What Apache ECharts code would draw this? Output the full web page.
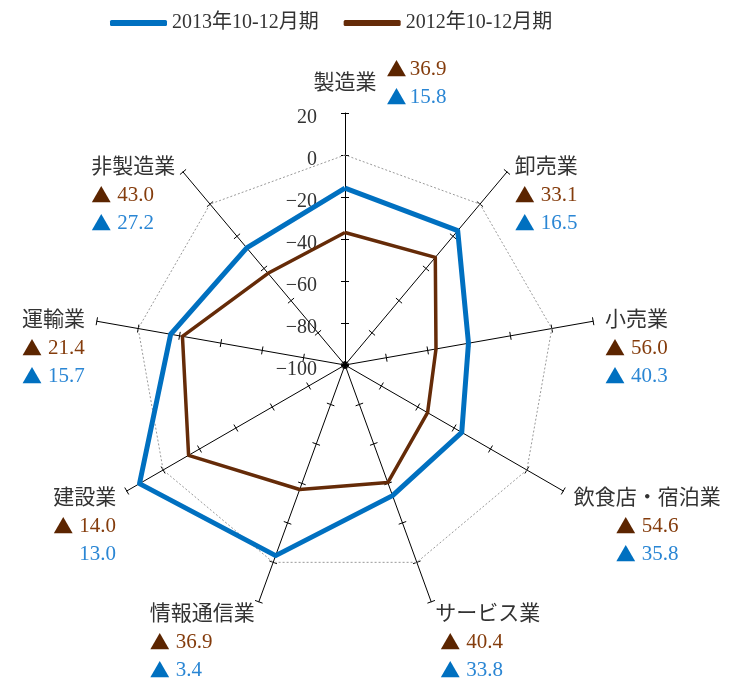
<!DOCTYPE html>
<html>
<head>
<meta charset="utf-8">
<script src="https://cdn.jsdelivr.net/npm/echarts@6/dist/echarts.min.js"></script>
<style>
  html, body { margin: 0; padding: 0; background: #fff; }
  #chart { width: 734px; height: 679px; }
</style>
</head>
<body>
<div id="chart"></div>
<script>
// categories listed clockwise from the top
const categories = ['製造業', '卸売業', '小売業', '飲食店・宿泊業', 'サービス業', '情報通信業', '建設業', '運輸業', '非製造業']
const values2013 = [-15.8, -16.5, -40.3, -35.8, -33.8, -3.4, 13.0, -15.7, -27.2]
const values2012 = [-36.9, -33.1, -56.0, -54.6, -40.4, -36.9, -14.0, -21.4, -43.0]
const zeroLine = [0, 0, 0, 0, 0, 0, 0, 0, 0]
const seriesNames = ['2013年10-12月期', '2012年10-12月期']
const axisMin = -100
const axisMax = 20

// echarts lays indicators out counter-clockwise, so feed them in reverse
const order = [0, 8, 7, 6, 5, 4, 3, 2, 1]
const pick = arr => order.map(i => arr[i])

const FONT = '"Liberation Serif", "Noto Sans CJK JP", serif'
const SIZE = 21
const BLUE = '#0070c0'
const BROWN = '#652b08'

function fmt(v) { return Math.abs(v).toFixed(1) }
function tri(v) { return v < 0 ? '▲' : '\u00a0' }

const TRI_W = 26
const NUM_W = 37
const VAL_W = TRI_W + NUM_W

function valueStyles(lh) {
  return {
    tb: { fontFamily: '"Noto Sans CJK JP"', fontSize: 20, color: '#5c2500', width: TRI_W, align: 'left', lineHeight: lh },
    b: { fontFamily: FONT, fontSize: SIZE, color: '#843c0c', width: NUM_W, align: 'left', lineHeight: lh },
    tc: { fontFamily: '"Noto Sans CJK JP"', fontSize: 20, color: BLUE, width: TRI_W, align: 'left', lineHeight: lh },
    c: { fontFamily: FONT, fontSize: SIZE, color: '#2a86d4', width: NUM_W, align: 'left', lineHeight: lh }
  }
}
const big = valueStyles(28)
const small = valueStyles(14)

// rich styles for the axis names
const rich = {
  e: { fontSize: 10, lineHeight: 29 },
  e2: { fontSize: 10, lineHeight: 33 },
  n: { fontFamily: FONT, fontSize: SIZE, color: '#333', lineHeight: 28 },
  tb: big.tb, b: big.b, tc: big.tc, c: big.c,
  top: { width: 140, lineHeight: 14 },
  nS: { fontFamily: FONT, fontSize: SIZE, color: '#333', lineHeight: 14 },
  tbS: small.tb, bS: small.b, tcS: small.tc, cS: small.c
}

function padFor(i) {
  // サービス業 keeps its values near the left edge, the rest are centred
  if (categories[i] === 'サービス業') return 5
  return (categories[i].length * SIZE - VAL_W) / 2
}
categories.forEach((c, i) => {
  rich['p' + i] = { width: Math.max(1, padFor(i)), lineHeight: 28 }
})

function nameBlock(name) {
  const i = categories.indexOf(name)
  const a = values2012[i]
  const b = values2013[i]
  if (i === 0) {
    return '{top|\u00a0}{tbS|' + tri(a) + '}{bS|' + fmt(a) + '}\n' +
      '{nS|' + name + '}\n' +
      '{top|\u00a0}{tcS|' + tri(b) + '}{cS|' + fmt(b) + '}'
  }
  const sp = padFor(i) > 2 ? '{p' + i + '|\u00a0}' : ''
  const l1 = '{tb|' + tri(a) + '}{b|' + fmt(a) + '}'
  const l2 = '{tc|' + tri(b) + '}{c|' + fmt(b) + '}'
  const right = i <= 4
  // the two upper diagonal labels sit a little lower in the original
  const e = (i === 1 || i === 8) ? '{e2|\u00a0}' : '{e|\u00a0}'
  return e + '\n' + e + '\n{n|' + name + '}\n' +
    (right ? sp + l1 : l1 + sp) + '\n' +
    (right ? sp + l2 : l2 + sp)
}

const chart = echarts.init(document.getElementById('chart'))

const baseRadar = {
  center: [345, 365],
  radius: 252,
  startAngle: 90,
  splitNumber: 6,
  shape: 'polygon',
  splitLine: { show: false },
  splitArea: { show: false }
}

const option = {
  animation: false,
  legend: {
    left: 105,
    top: 8,
    itemWidth: 57,
    itemHeight: 6,
    itemGap: 25,
    icon: 'roundRect',
    textStyle: { fontFamily: FONT, fontSize: 20, color: '#333' },
    data: seriesNames
  },
  radar: [
    Object.assign({}, baseRadar, {
      indicator: pick(categories).map((c, k) => {
        const ind = { name: c, min: axisMin, max: axisMax, nameGap: k === 0 ? 5 : 12 }
        if (k === 0) {
          ind.axisLabel = {
            show: true,
            margin: 28,
            align: 'right',
            verticalAlign: 'top',
            lineHeight: 10,
            fontFamily: FONT,
            fontSize: 20,
            color: '#333',
            formatter: v => String(v).replace('-', '\u2212')
          }
        }
        return ind
      }),
      axisLine: { lineStyle: { color: '#000', width: 1 } },
      axisTick: { show: true, length: 4, lineStyle: { color: '#000', width: 1 } },
      axisName: {
        color: '#333',
        fontFamily: FONT,
        fontSize: SIZE,
        formatter: nameBlock,
        rich
      }
    }),
    Object.assign({}, baseRadar, {
      indicator: pick(categories).map(c => ({ name: c, min: axisMin, max: axisMax })),
      axisLine: { show: false },
      axisTick: { show: true, length: -4, lineStyle: { color: '#000', width: 1 } },
      axisName: { show: false }
    })
  ],
  series: [
    {
      type: 'radar',
      radarIndex: 0,
      symbol: 'none',
      silent: true,
      data: [{
        name: 'zero',
        value: zeroLine,
        lineStyle: { color: '#999', width: 1, type: [2, 2] },
        itemStyle: { color: '#999' }
      }]
    },
    {
      type: 'radar',
      radarIndex: 0,
      symbol: 'none',
      data: [{
        name: seriesNames[0],
        value: pick(values2013),
        lineStyle: { color: BLUE, width: 5 },
        itemStyle: { color: BLUE }
      }]
    },
    {
      type: 'radar',
      radarIndex: 0,
      symbol: 'none',
      data: [{
        name: seriesNames[1],
        value: pick(values2012),
        lineStyle: { color: BROWN, width: 3.5 },
        itemStyle: { color: BROWN }
      }]
    }
  ]
}

chart.setOption(option)
</script>
</body>
</html>
